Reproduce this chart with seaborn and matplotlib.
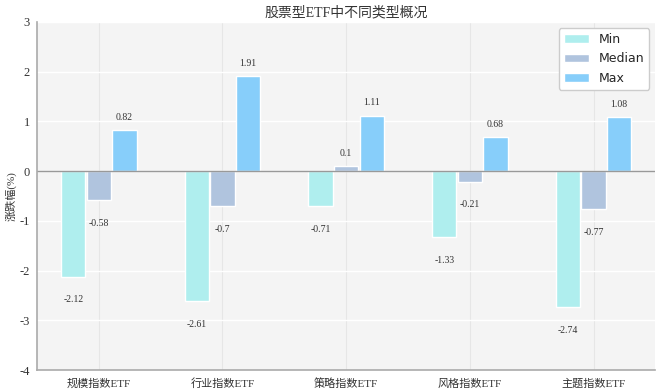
import pandas as pd
import matplotlib.pyplot as plt
import seaborn as sns

categories = ['规模指数ETF', '行业指数ETF', '策略指数ETF', '风格指数ETF', '主题指数ETF']
min_vals = [-2.12, -2.61, -0.71, -1.33, -2.74]
median_vals = [-0.58, -0.7, 0.1, -0.21, -0.77]
max_vals = [0.82, 1.91, 1.11, 0.68, 1.08]
series = ['Min', 'Median', 'Max']
colors = ['#AFEEEE', '#B0C4DE', '#87CEFA']

df = pd.DataFrame({'类型': categories, 'Min': min_vals, 'Median': median_vals, 'Max': max_vals})
df = df.melt(id_vars='类型', var_name='统计', value_name='涨跌幅')

sns.set_style('whitegrid')
serif = ['Liberation Serif', 'Noto Sans CJK SC']
plt.rcParams['axes.unicode_minus'] = False

fig, ax = plt.subplots(figsize=(6.6, 3.92), dpi=100)
ax.set_facecolor('#f4f4f4')
sns.barplot(data=df, x='类型', y='涨跌幅', hue='统计', hue_order=series, saturation=1,
            palette=colors, width=0.62, gap=0.05, edgecolor='white', linewidth=1, ax=ax)

for cont in ax.containers:
    for bar in cont:
        v = bar.get_height()
        x = bar.get_x() + bar.get_width() / 2
        if v >= 0:
            ax.text(x, v + 0.17, f'{v:g}', ha='center', va='bottom', fontsize=7, family=serif, color='#333333')
        else:
            ax.text(x, v - 0.38, f'{v:g}', ha='center', va='top', fontsize=7, family=serif, color='#333333')

ax.axhline(0, color='#999999', linewidth=1)
ax.set_ylim(-4, 3)
ax.set_yticks(range(-4, 4))
ax.grid(True, color='white', linewidth=1)
ax.grid(True, axis='x', color='#e6e6e6', linewidth=0.8)
for s in ['top', 'right']:
    ax.spines[s].set_visible(False)
for s in ['left', 'bottom']:
    ax.spines[s].set_color('#aaaaaa')
    ax.spines[s].set_linewidth(1.2)

ax.set_title('股票型ETF中不同类型概况', fontsize=10, family=serif, color='#333333', pad=4)
ax.set_xlabel('')
ax.set_ylabel('涨跌幅(%)', fontsize=8, family=serif, color='#333333', labelpad=2)
for lab in ax.get_xticklabels() + ax.get_yticklabels():
    lab.set_family(serif)
    lab.set_color('#333333')
ax.tick_params(axis='x', labelsize=8, length=0, pad=6)
ax.tick_params(axis='y', labelsize=9, length=0, pad=5)

ax.legend(loc='upper right', title=None, fontsize=9, frameon=True, edgecolor='#cccccc', facecolor='white', framealpha=1)

plt.subplots_adjust(left=0.056, right=0.993, top=0.944, bottom=0.056)
plt.savefig('out.png')
plt.close()
